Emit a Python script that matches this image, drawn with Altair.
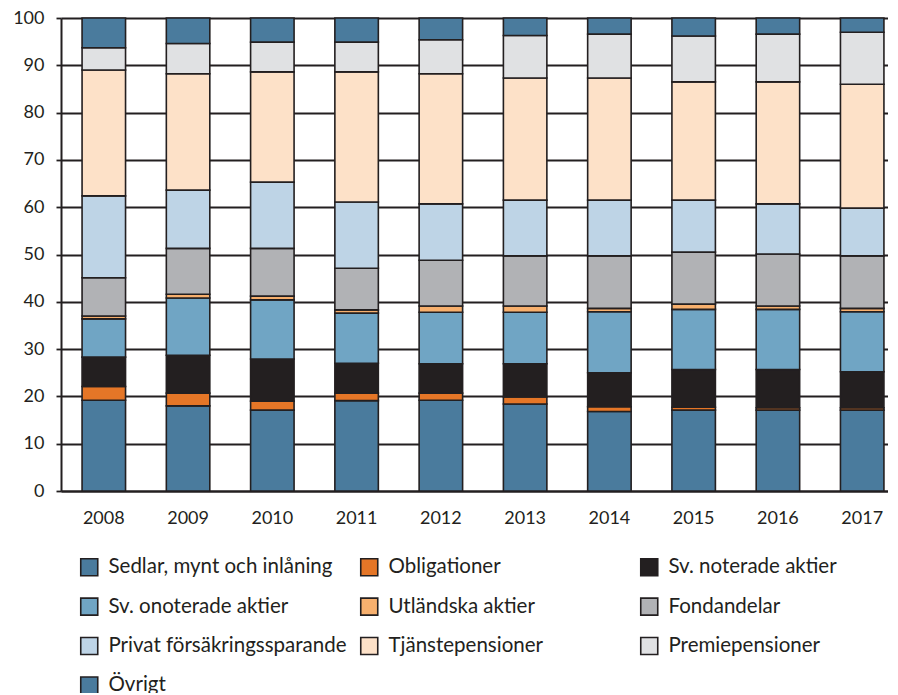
import altair as alt
import pandas as pd

years = ["2008", "2009", "2010", "2011", "2012", "2013", "2014", "2015", "2016", "2017"]

categories = [
    "Sedlar, mynt och inlåning",
    "Obligationer",
    "Sv. noterade aktier",
    "Sv. onoterade aktier",
    "Utländska aktier",
    "Fondandelar",
    "Privat försäkringssparande",
    "Tjänstepensioner",
    "Premiepensioner",
    "Övrigt",
]

sedlar     = [19.2, 18.0, 17.1, 19.1, 19.2, 18.4, 16.8, 17.1, 17.1, 17.1]
oblig      = [2.9, 2.7, 1.9, 1.6, 1.5, 1.5, 1.0, 0.6, 0.5, 0.5]
noterade   = [6.2, 8.0, 8.9, 6.3, 6.2, 7.0, 7.2, 8.0, 8.1, 7.6]
onoterade  = [8.1, 12.1, 12.5, 10.6, 10.9, 10.9, 12.9, 12.7, 12.7, 12.7]
utlandska  = [0.6, 0.8, 0.8, 0.7, 1.3, 1.3, 0.7, 1.1, 0.7, 0.7]
fond       = [8.1, 9.7, 10.1, 8.8, 9.7, 10.6, 11.1, 11.0, 11.0, 11.1]
privat     = [17.3, 12.3, 14.0, 14.0, 11.9, 11.8, 11.8, 11.0, 10.6, 10.1]
tjanste    = [26.6, 24.6, 23.3, 27.5, 27.5, 25.8, 25.8, 25.0, 25.8, 26.2]
premie     = [4.7, 6.4, 6.3, 6.3, 7.2, 9.0, 9.3, 9.7, 10.1, 11.0]
ovrigt     = [6.3, 5.4, 5.1, 5.1, 4.6, 3.7, 3.4, 3.8, 3.4, 3.0]

colors = ["#4a7b9d", "#e57627", "#231f20", "#70a5c4", "#f7b06e",
          "#b1b2b5", "#bed4e6", "#fde1c8", "#e0e1e3", "#4a7b9d"]

series = [sedlar, oblig, noterade, onoterade, utlandska, fond, privat, tjanste, premie, ovrigt]

rows = []
for ci, (cat, vals) in enumerate(zip(categories, series)):
    for y, v in zip(years, vals):
        rows.append({"year": y, "category": cat, "value": v, "order": ci})
df = pd.DataFrame(rows)

DARK = "#231f20"
FONT = "Lato"

chart = alt.Chart(df).mark_bar(stroke=DARK, strokeWidth=1.6).encode(
    x=alt.X("year:N", title=None,
            scale=alt.Scale(paddingInner=0.484, paddingOuter=0.25, range=[0, 844]),
            axis=alt.Axis(labelAngle=0, ticks=False, labelPadding=18, grid=False,
                          domainColor=DARK, domainWidth=2)),
    y=alt.Y("value:Q", title=None, stack="zero",
            scale=alt.Scale(domain=[0, 100], nice=False),
            axis=alt.Axis(values=list(range(0, 101, 10)), grid=True, gridColor=DARK,
                          gridWidth=1.8, gridOpacity=1, tickSize=5, tickColor=DARK,
                          tickWidth=1.8, labelPadding=12, domainColor=DARK,
                          domainWidth=2)),
    color=alt.Color("category:N", title=None,
                    scale=alt.Scale(domain=categories, range=colors),
                    legend=alt.Legend(orient="none", legendX=18, legendY=539,
                                      direction="horizontal",
                                      columns=3, gridAlign="all", columnPadding=10,
                                      rowPadding=15.4, symbolType="square",
                                      symbolSize=289, symbolStrokeColor=DARK,
                                      symbolStrokeWidth=1.6, symbolOpacity=1,
                                      labelFontSize=20.5, labelOffset=9,
                                      labelColor=DARK, labelFont=FONT,
                                      padding=0, labelLimit=400)),
    order=alt.Order("order:Q", sort="ascending"),
).properties(
    width=827, height=473,
    autosize=alt.AutoSizeParams(type="none"),
    padding={"left": 53, "top": 10, "right": 0, "bottom": 202},
).configure_view(strokeWidth=0).configure_axis(
    labelFont=FONT, labelFontSize=18, labelColor=DARK,
)

chart.save("out.html", embed_options={"renderer": "svg", "actions": False})
